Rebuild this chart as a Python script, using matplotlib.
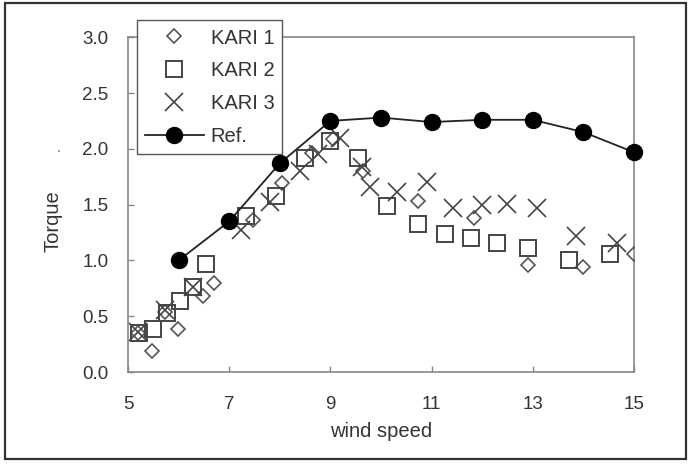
import matplotlib

matplotlib.use("Agg")

import matplotlib.pyplot as plt
from matplotlib.patches import Rectangle

# values
kari1_x = [5.2, 5.47, 5.73, 5.99, 6.48, 6.7, 7.47, 8.04, 8.64, 9.05, 9.64, 10.73, 11.84, 12.91, 14.0, 15.0]
kari1_y = [0.35, 0.19, 0.54, 0.39, 0.68, 0.8, 1.36, 1.69, 1.96, 2.09, 1.8, 1.53, 1.38, 0.96, 0.94, 1.06]

kari2_x = [5.22, 5.49, 5.77, 6.03, 6.28, 6.54, 7.33, 7.92, 8.5, 8.99, 9.55, 10.12, 10.73, 11.26, 11.78, 12.29, 12.91, 13.72, 14.53]
kari2_y = [0.35, 0.39, 0.53, 0.64, 0.76, 0.97, 1.4, 1.58, 1.92, 2.07, 1.92, 1.49, 1.33, 1.24, 1.2, 1.16, 1.11, 1.0, 1.06]

kari3_x = [5.2, 5.73, 6.28, 7.23, 7.81, 8.4, 8.75, 9.19, 9.62, 9.78, 10.32, 10.91, 11.42, 12.0, 12.49, 13.08, 13.85, 14.66]
kari3_y = [0.36, 0.56, 0.76, 1.27, 1.52, 1.8, 1.95, 2.1, 1.84, 1.66, 1.61, 1.7, 1.47, 1.5, 1.51, 1.47, 1.22, 1.16]

ref_x = [6, 7, 8, 9, 10, 11, 12, 13, 14, 15]
ref_y = [1.0, 1.35, 1.87, 2.25, 2.28, 2.24, 2.26, 2.26, 2.15, 1.97]

x_ticks = [5, 7, 9, 11, 13, 15]
y_ticks = [0.0, 0.5, 1.0, 1.5, 2.0, 2.5, 3.0]

plt.rcParams["font.family"] = ["Liberation Sans", "DejaVu Sans"]
text_color = "#333333"
edge = "#444444"

fig = plt.figure(figsize=(6.92, 4.71), dpi=100)
fig.patch.set_facecolor("white")
ax = fig.add_axes([0.185, 0.210, 0.731, 0.711])

ax.plot(kari1_x, kari1_y, linestyle="none", marker="D", markersize=7.2,
        markerfacecolor="none", markeredgecolor="#555555", markeredgewidth=1.2, label="KARI 1", zorder=3)
ax.plot(kari2_x, kari2_y, linestyle="none", marker="s", markersize=11.5,
        markerfacecolor="none", markeredgecolor=edge, markeredgewidth=1.4, label="KARI 2", zorder=3)
ax.plot(kari3_x, kari3_y, linestyle="none", marker="x", markersize=12.5,
        markeredgecolor=edge, markeredgewidth=1.2, label="KARI 3", zorder=3)
ax.plot(ref_x, ref_y, color="#222222", linewidth=1.3, marker="o", markersize=11.5,
        markerfacecolor="black", markeredgecolor="black", label="Ref.", zorder=4, clip_on=False)

ax.set_xlim(5, 15)
ax.set_ylim(0, 3.0)
ax.set_xticks(x_ticks)
ax.set_xticklabels([str(v) for v in x_ticks])
ax.set_yticks(y_ticks)
ax.set_yticklabels([f"{v:.1f}" for v in y_ticks])

for spine in ax.spines.values():
    spine.set_color("#888888")
    spine.set_linewidth(1.2)

ax.tick_params(axis="both", direction="in", length=4, width=1, color="#888888",
               labelsize=13.5, labelcolor=text_color)
ax.tick_params(axis="x", pad=17)
ax.tick_params(axis="y", pad=14)

ax.set_xlabel("wind speed", fontsize=14.5, color=text_color)
ax.xaxis.set_label_coords(0.5, -0.15)
ax.set_ylabel("Torque", fontsize=14.5, color=text_color)
ax.yaxis.set_label_coords(-0.13, 0.45)
ax.text(-0.137, 0.67, ".", transform=ax.transAxes, fontsize=10, color="#666666",
        ha="center", va="center")

leg = ax.legend(loc="upper left", bbox_to_anchor=(0.018, 1.05), borderaxespad=0,
                fontsize=14.5, handlelength=2.9, handletextpad=0.35, labelspacing=0.68,
                borderpad=0.4, fancybox=False, framealpha=1, edgecolor="#555555")
leg.get_frame().set_linewidth(1.0)
for t in leg.get_texts():
    t.set_color(text_color)

fig.patches.append(Rectangle((5 / 692, 1 - 459 / 471), 681 / 692, 456 / 471,
                             transform=fig.transFigure, fill=False,
                             edgecolor="#333333", linewidth=1.6))

fig.savefig("out.png", dpi=100)
plt.close(fig)
